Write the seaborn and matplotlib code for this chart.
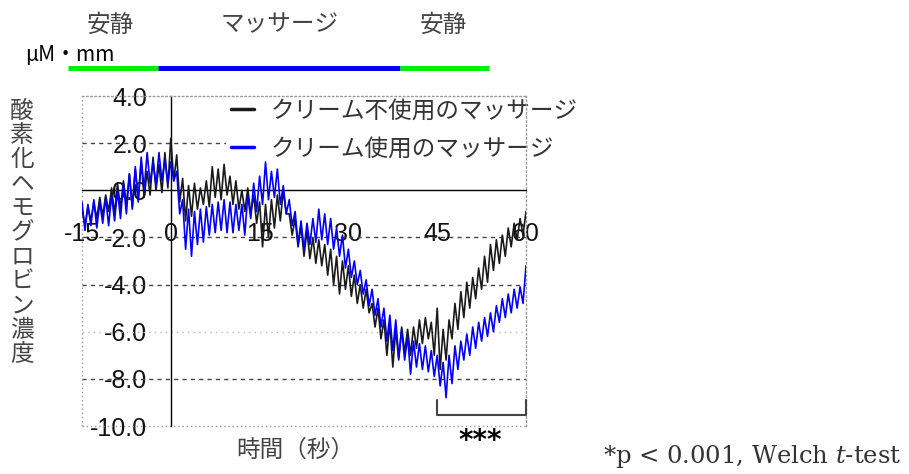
import numpy as np
import pandas as pd
import matplotlib
matplotlib.use("Agg")
import matplotlib.pyplot as plt
from matplotlib.lines import Line2D
import seaborn as sns

# ---- data -------------------------------------------------------------
# sampling times (s), every 0.5 s from -15 to 60
time_s = np.arange(-15, 60.01, 0.5)

# oxy-Hb concentration (μM·mm), massage without cream
no_cream = [
    -0.8, -1.5, -0.7, -1.3, -0.5, -1.2, -0.3, -1.1, -0.2, -0.9,
    0.1, -1.0, 0.3, -0.8, 0.4, -0.6, 0.7, -0.7, 0.9, -0.4,
    1.2, -0.3, 0.8, -0.2, 1.4, 0.0, 1.1, -0.1, 1.6, 0.1,
    2.2, 0.4, 1.5, -0.5, 0.5, -1.3, 0.2, -1.1, 0.3, -0.8,
    0.1, -0.6, 0.4, -0.7, 1.0, -0.3, 0.9, -0.4, 1.1, -0.2,
    0.6, -0.6, 0.4, -0.8, 0.0, -0.9, 0.1, -1.0, -0.2, -1.4,
    -0.5, -2.4, -0.6, -2.0, -0.4, -1.6, -0.2, -1.3, 0.0, -1.0,
    -1.0, -1.9, -1.2, -2.4, -1.5, -2.8, -1.7, -2.9, -2.0, -3.1,
    -2.1, -3.2, -2.3, -3.6, -2.5, -4.0, -2.8, -4.4, -3.0, -4.2,
    -3.2, -4.5, -3.6, -4.8, -4.0, -5.0, -4.2, -5.2, -4.8, -5.8,
    -5.0, -6.3, -5.5, -7.0, -5.6, -7.5, -5.9, -7.2, -5.8, -6.9,
    -5.9, -7.0, -5.8, -6.7, -5.5, -6.5, -5.4, -6.3, -5.6, -7.0,
    -5.0, -7.6, -5.9, -7.2, -5.5, -6.3, -4.8, -5.9, -4.3, -5.4,
    -3.9, -5.0, -3.7, -4.6, -3.3, -4.2, -2.8, -3.9, -2.3, -3.4,
    -2.1, -3.1, -1.9, -2.8, -1.6, -2.4, -1.4, -2.1, -1.2, -1.9,
    -0.9,
]

# oxy-Hb concentration (μM·mm), massage with cream
with_cream = [
    -0.5, -1.7, -0.6, -1.5, -0.4, -1.6, -0.5, -1.4, -0.3, -1.5,
    -0.2, -1.3, 0.0, -1.2, 0.3, -1.0, 0.7, -0.8, 1.0, -0.5,
    1.4, 0.0, 1.6, 0.3, 1.2, 0.2, 1.6, 0.4, 1.3, 0.3,
    1.2, 0.4, 0.8, -1.0, -0.4, -2.5, -0.8, -2.8, -0.9, -2.3,
    -0.8, -2.2, -0.7, -1.9, -0.6, -1.8, -0.5, -1.7, -0.4, -1.8,
    -0.5, -1.8, -0.6, -1.7, -0.6, -1.9, -0.2, -1.2, 0.3, -0.9,
    0.6, -0.6, 1.2, -0.4, 0.8, -0.3, 0.9, -0.6, 0.2, -1.0,
    -0.4, -1.5, -0.9, -2.3, -1.3, -2.5, -1.4, -2.3, -1.2, -2.2,
    -0.8, -2.1, -1.0, -2.3, -1.2, -2.5, -1.6, -2.8, -1.9, -3.3,
    -2.5, -3.7, -3.0, -4.0, -3.4, -4.4, -3.8, -4.9, -4.2, -5.3,
    -4.6, -5.8, -5.0, -6.4, -5.3, -6.8, -5.5, -7.1, -5.9, -7.2,
    -6.2, -7.8, -6.4, -7.5, -6.5, -7.6, -6.6, -7.7, -6.8, -7.9,
    -7.0, -8.3, -7.3, -8.8, -7.0, -8.2, -6.6, -7.6, -6.4, -7.2,
    -6.1, -7.0, -5.8, -6.7, -5.6, -6.4, -5.4, -6.2, -5.2, -6.0,
    -4.9, -5.6, -4.6, -5.4, -4.4, -5.2, -4.2, -5.0, -4.1, -4.8,
    -3.2,
]

series_labels = ["クリーム不使用のマッサージ", "クリーム使用のマッサージ"]
series_colors = ["#1a1a1a", "#0000ff"]

x_ticks = [-15, 0, 15, 30, 45, 60]
x_tick_labels = ["-15", "0", "15", "30", "45", "60"]
y_ticks = [4, 2, 0, -2, -4, -6, -8, -10]
y_tick_labels = ["4.0", "2.0", "0.0", "-2.0", "-4.0", "-6.0", "-8.0", "-10.0"]

phase_labels = ["安静", "マッサージ", "安静"]
signif_span = [45, 60]

# ---- figure -----------------------------------------------------------
sns.set_style("white")
plt.rcParams["font.family"] = ["Noto Sans CJK JP", "DejaVu Sans"]
plt.rcParams["mathtext.fontset"] = "dejavuserif"

W, H = 909, 474
fig = plt.figure(figsize=(W / 100, H / 100), dpi=100)
ax = fig.add_axes([82 / W, 48 / H, 444 / W, 330 / H])

n = len(time_s)
df = pd.DataFrame({
    "time": np.concatenate([time_s, time_s]),
    "oxyhb": np.concatenate([no_cream, with_cream]),
    "cond": [series_labels[0]] * n + [series_labels[1]] * n,
})
sns.lineplot(data=df, x="time", y="oxyhb", hue="cond", hue_order=series_labels,
             palette=series_colors, linewidth=1.2, estimator=None, sort=False,
             legend=False, ax=ax)
for ln in ax.lines:
    ln.set_zorder(3)

ax.set_xlim(-15, 60)
ax.set_ylim(-10, 4)
ax.set_xlabel("")
ax.set_ylabel("")

# axis lines through the origin, dotted outer frame
for side in ("left", "bottom"):
    ax.spines[side].set_position(("data", 0))
    ax.spines[side].set_color("black")
    ax.spines[side].set_linewidth(1.0)
for side in ("top", "right"):
    ax.spines[side].set_linestyle((0, (1, 2)))
    ax.spines[side].set_color("#999999")
    ax.spines[side].set_linewidth(1.0)
ax.axvline(-15, color="#999999", lw=1.0, ls=(0, (1, 2)), clip_on=False, zorder=2)
ax.axhline(-10, color="#999999", lw=1.0, ls=(0, (1, 2)), clip_on=False, zorder=2)

# horizontal reference lines
for yv in (2, -2, -4, -8):
    ax.axhline(yv, color="#444444", lw=1.0, ls=(0, (3, 3)), zorder=1)
ax.axhline(-6, color="#bbbbbb", lw=1.0, ls=(0, (1, 3)), zorder=1)

ax.set_xticks(x_ticks)
ax.set_xticklabels(x_tick_labels)
ax.set_yticks(y_ticks)
ax.set_yticklabels(y_tick_labels)
ax.tick_params(axis="x", direction="in", length=5, width=1, pad=23,
               labelsize=18, labelcolor="#111111")
ax.tick_params(axis="y", direction="in", length=6, width=1, pad=17,
               labelsize=18, labelcolor="#111111")
for lab in ax.get_xticklabels() + ax.get_yticklabels():
    lab.set_fontfamily("Liberation Sans")

# legend
handles = [Line2D([], [], color=c, lw=2.5) for c in series_colors]
leg = ax.legend(handles, series_labels, loc="upper left",
                bbox_to_anchor=(226 / W, 1 - 95 / H), bbox_transform=fig.transFigure,
                frameon=True, facecolor="white", edgecolor="none", framealpha=1,
                fancybox=False, fontsize=17, handlelength=1.0, handletextpad=0.7,
                labelspacing=0.63, borderpad=0.2, borderaxespad=0,
                labelcolor="#333333")
leg.set_zorder(2.2)

# significance bracket
ax.plot([signif_span[0], signif_span[0], signif_span[1], signif_span[1]],
        [-8.9, -9.55, -9.55, -8.9], color="#444444", lw=1.5, clip_on=False, zorder=3)
ax.text(sum(signif_span) / 2 - 0.3, -10.62, "***", ha="center", va="center",
        fontsize=20, fontweight="bold", family="DejaVu Sans", color="black",
        clip_on=False)

# phase header with coloured bar
for xc, txt in zip((110, 280, 443), phase_labels):
    fig.text(xc / W, 1 - 25 / H, txt, ha="center", va="center", fontsize=17,
             color="#444444")
fig.text(25 / W, 1 - 55 / H, "μM・mm", ha="left", va="center", fontsize=15,
         color="black")
for x0, x1, col in ((68, 158, "#00ee00"), (158, 400, "#0000ee"), (400, 489, "#00ee00")):
    fig.add_artist(Line2D([x0 / W, x1 / W], [1 - 67.5 / H] * 2, color=col, lw=3.6,
                          solid_capstyle="butt", transform=fig.transFigure))

# vertical y label, one character per line
ylab = "酸素化ヘモグロビン濃度"
for i, ch in enumerate(ylab):
    fig.text(22 / W, 1 - (111 + i * 24.4) / H, ch, ha="center", va="center",
             fontsize=17, color="#444444")

fig.text(295 / W, 1 - 450 / H, "時間（秒）", ha="center", va="center", fontsize=17,
         color="#444444")

fig.text(603 / W, 1 - 463 / H, r"*p < 0.001, Welch $\mathit{t}$-test", ha="left",
         va="baseline", fontsize=17.5, family="DejaVu Serif", color="#333333")

fig.savefig("out.png", dpi=100)
